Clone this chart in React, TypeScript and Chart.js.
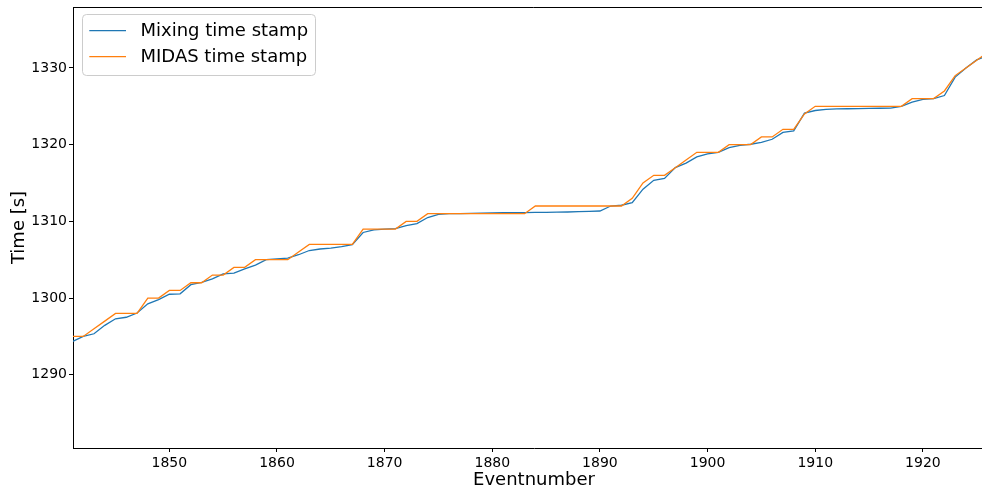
import { useEffect, useRef } from "react";
import { Chart, registerables } from "chart.js";

Chart.register(...registerables);

// Event numbers on the x axis
const eventNumbers = [
  1841, 1842, 1843, 1844, 1845, 1846, 1847, 1848, 1849, 1850,
  1851, 1852, 1853, 1854, 1855, 1856, 1857, 1858, 1859, 1860,
  1861, 1862, 1863, 1864, 1865, 1866, 1867, 1868, 1869, 1870,
  1871, 1872, 1873, 1874, 1875, 1876, 1877, 1878, 1879, 1880,
  1881, 1882, 1883, 1884, 1885, 1886, 1887, 1888, 1889, 1890,
  1891, 1892, 1893, 1894, 1895, 1896, 1897, 1898, 1899, 1900,
  1901, 1902, 1903, 1904, 1905, 1906, 1907, 1908, 1909, 1910,
  1911, 1912, 1913, 1914, 1915, 1916, 1917, 1918, 1919, 1920,
  1921, 1922, 1923, 1924, 1925, 1926,
];

// Time stamps [s] from the mixing module
const mixingTime = [
  1294.35, 1295.0, 1295.35, 1296.45, 1297.3, 1297.5, 1298.05, 1299.25, 1299.8, 1300.5,
  1300.55, 1301.75, 1302.05, 1302.5, 1303.15, 1303.25, 1303.8, 1304.3, 1305.0, 1305.1,
  1305.2, 1305.65, 1306.2, 1306.4, 1306.5, 1306.7, 1306.95, 1308.55, 1308.9, 1309.0,
  1309.05, 1309.45, 1309.7, 1310.5, 1310.9, 1311.0, 1311.02, 1311.05, 1311.07, 1311.1,
  1311.12, 1311.14, 1311.15, 1311.17, 1311.18, 1311.2, 1311.22, 1311.26, 1311.3, 1311.35,
  1312.0, 1312.1, 1312.45, 1314.2, 1315.35, 1315.6, 1317.0, 1317.6, 1318.4, 1318.8,
  1319.0, 1319.6, 1319.9, 1320.05, 1320.3, 1320.7, 1321.6, 1321.8, 1324.1, 1324.45,
  1324.6, 1324.65, 1324.68, 1324.7, 1324.72, 1324.74, 1324.76, 1325.0, 1325.55, 1325.9,
  1326.0, 1326.4, 1328.8, 1330.0, 1331.05, 1331.6,
];

// Time stamps [s] from MIDAS (whole seconds)
const midasTime = [
  1295, 1295, 1296, 1297, 1298, 1298, 1298, 1300, 1300, 1301,
  1301, 1302, 1302, 1303, 1303, 1304, 1304, 1305, 1305, 1305,
  1305, 1306, 1307, 1307, 1307, 1307, 1307, 1309, 1309, 1309,
  1309, 1310, 1310, 1311, 1311, 1311, 1311, 1311, 1311, 1311,
  1311, 1311, 1311, 1312, 1312, 1312, 1312, 1312, 1312, 1312,
  1312, 1312, 1313, 1315, 1316, 1316, 1317, 1318, 1319, 1319,
  1319, 1320, 1320, 1320, 1321, 1321, 1322, 1322, 1324, 1325,
  1325, 1325, 1325, 1325, 1325, 1325, 1325, 1325, 1326, 1326,
  1326, 1327, 1329, 1330, 1331, 1332,
];

const xTicks = [1850, 1860, 1870, 1880, 1890, 1900, 1910, 1920];
const yTicks = [1290, 1300, 1310, 1320, 1330];

const FONT = '"DejaVu Sans", "Liberation Sans", sans-serif';
const BLUE = "#1f77b4";
const ORANGE = "#ff7f0e";

// Draws the top and right frame lines, which the scales do not draw themselves.
const frame = {
  id: "frame",
  afterDatasetsDraw(chart: any) {
    const { ctx, chartArea } = chart;
    ctx.save();
    ctx.strokeStyle = "#000";
    ctx.lineWidth = 1;
    ctx.beginPath();
    ctx.moveTo(chartArea.left, chartArea.top + 0.5);
    ctx.lineTo(chartArea.right - 0.5, chartArea.top + 0.5);
    ctx.lineTo(chartArea.right - 0.5, chartArea.bottom);
    ctx.stroke();
    ctx.restore();
  },
};

// Boxed legend in the upper-left corner of the plot area.
const boxLegend = {
  id: "boxLegend",
  afterDraw(chart: any) {
    const { ctx, chartArea } = chart;
    const x = chartArea.left + 9.5;
    const y = chartArea.top + 7.5;
    const w = 233;
    const h = 61;
    const r = 4;
    ctx.save();
    ctx.beginPath();
    ctx.moveTo(x + r, y);
    ctx.lineTo(x + w - r, y);
    ctx.arcTo(x + w, y, x + w, y + r, r);
    ctx.lineTo(x + w, y + h - r);
    ctx.arcTo(x + w, y + h, x + w - r, y + h, r);
    ctx.lineTo(x + r, y + h);
    ctx.arcTo(x, y + h, x, y + h - r, r);
    ctx.lineTo(x, y + r);
    ctx.arcTo(x, y, x + r, y, r);
    ctx.closePath();
    ctx.fillStyle = "rgba(255,255,255,0.8)";
    ctx.fill();
    ctx.strokeStyle = "#cccccc";
    ctx.lineWidth = 1;
    ctx.stroke();

    const entries = [...chart.data.datasets].sort(
      (a: any, b: any) => (a.legendIndex ?? 0) - (b.legendIndex ?? 0)
    );
    ctx.font = `18px ${FONT}`;
    ctx.textBaseline = "middle";
    ctx.textAlign = "left";
    entries.forEach((ds: any, i: number) => {
      const rowY = chartArea.top + 23.7 + i * 26;
      ctx.strokeStyle = ds.borderColor;
      ctx.lineWidth = ds.borderWidth;
      ctx.beginPath();
      ctx.moveTo(chartArea.left + 16.3, rowY);
      ctx.lineTo(chartArea.left + 53, rowY);
      ctx.stroke();
      ctx.fillStyle = "#000";
      ctx.fillText(ds.label, chartArea.left + 67.5, rowY + 0.5);
    });
    ctx.restore();
  },
};

export default function App() {
  const canvasRef = useRef<HTMLCanvasElement | null>(null);

  useEffect(() => {
    if (!canvasRef.current) return;
    const toPoints = (ys: number[]) => eventNumbers.map((e, i) => ({ x: e, y: ys[i] }));

    const chart = new Chart(canvasRef.current, {
      type: "line",
      data: {
        datasets: [
          {
            label: "Mixing time stamp",
            data: toPoints(mixingTime),
            borderColor: BLUE,
            borderWidth: 1.3,
            pointRadius: 0,
            tension: 0,
            fill: false,
            order: 1,
            legendIndex: 0,
          } as any,
          {
            label: "MIDAS time stamp",
            data: toPoints(midasTime),
            borderColor: ORANGE,
            borderWidth: 1.3,
            pointRadius: 0,
            tension: 0,
            fill: false,
            order: 0,
            legendIndex: 1,
          } as any,
        ],
      },
      options: {
        responsive: false,
        animation: false,
        events: [],
        layout: { padding: { top: 7, right: 1, left: 0, bottom: 0 } },
        plugins: {
          legend: { display: false },
          tooltip: { enabled: false },
        },
        scales: {
          x: {
            type: "linear",
            min: 1841.05,
            max: 1926.7,
            afterFit: (s: any) => {
              s.height = 44;
              s.paddingLeft = 0;
              s.paddingRight = 0;
            },
            afterBuildTicks: (s: any) => {
              s.ticks = xTicks.map((v) => ({ value: v }));
            },
            grid: {
              drawOnChartArea: false,
              drawTicks: true,
              tickLength: 4,
              color: "#000",
            },
            border: { display: true, color: "#000", width: 1 },
            ticks: {
              color: "#000",
              padding: 3,
              maxRotation: 0,
              font: { family: FONT, size: 14 },
              callback: (v: any) => String(v),
            },
            title: {
              display: true,
              text: "Eventnumber",
              color: "#000",
              font: { family: FONT, size: 18 },
              padding: { top: 0, bottom: 1 },
            },
          },
          y: {
            type: "linear",
            min: 1280.46,
            max: 1337.94,
            afterFit: (s: any) => {
              s.width = 73;
              s.paddingTop = 0;
              s.paddingBottom = 0;
            },
            afterBuildTicks: (s: any) => {
              s.ticks = yTicks.map((v) => ({ value: v }));
            },
            grid: {
              drawOnChartArea: false,
              drawTicks: true,
              tickLength: 4,
              color: "#000",
            },
            border: { display: true, color: "#000", width: 1 },
            ticks: {
              color: "#000",
              padding: 2,
              font: { family: FONT, size: 14 },
              callback: (v: any) => String(v),
            },
            title: {
              display: true,
              text: "Time [s]",
              color: "#000",
              font: { family: FONT, size: 18 },
              padding: { top: 9, bottom: 0 },
            },
          },
        },
      },
      plugins: [frame, boxLegend],
    });

    return () => chart.destroy();
  }, []);

  return (
    <div
      style={{
        position: "absolute",
        left: 0,
        top: 0,
        width: 982,
        height: 492,
        overflow: "hidden",
        background: "#fff",
      }}
    >
      <canvas
        ref={canvasRef}
        width={996}
        height={492}
        style={{ display: "block", width: 996, height: 492 }}
      />
    </div>
  );
}
